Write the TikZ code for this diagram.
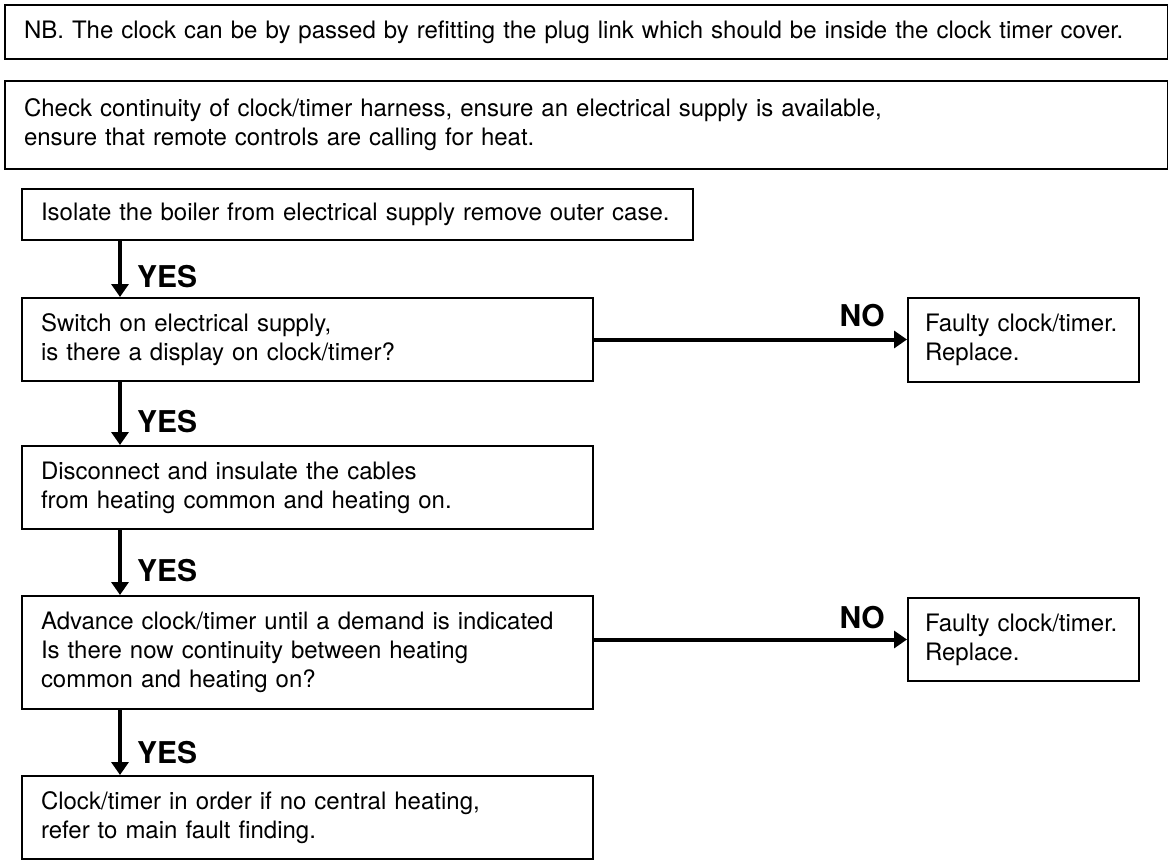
\documentclass[tikz,border=0pt]{standalone}
\usepackage{fontspec}
\setmainfont{TeX Gyre Heros}
\usetikzlibrary{arrows.meta}
\begin{document}
\begin{tikzpicture}[x=1pt,y=-1pt,
  box/.style={draw, line width=2pt, rectangle, anchor=north west, inner xsep=19pt, inner ysep=0pt, align=left, font=\fontsize{24}{29}\selectfont},
  arr/.style={line width=4pt, -{Triangle[length=13pt,width=17pt]}},
  lab/.style={font=\bfseries\fontsize{30}{36}\selectfont, inner sep=0pt}]
\fill[white] (0,0) rectangle (1168,865);
\useasboundingbox (0,0) rectangle (1168,865);
\node[box, text width=1125pt, minimum height=54pt] (nb) at (4,4) {NB. The clock can be by passed by refitting the plug link which should be inside the clock timer cover.};
\node[box, text width=1125pt, minimum height=88pt] (chk) at (4,80) {Check continuity of clock/timer harness, ensure an electrical supply is available,\\ ensure that remote controls are calling for heat.};
\node[box, text width=633pt, minimum height=51pt] (b1) at (21,188) {Isolate the boiler from electrical supply remove outer case.};
\node[box, text width=533pt, minimum height=83pt] (b2) at (21,297) {Switch on electrical supply,\\ is there a display on clock/timer?};
\node[box, text width=533pt, minimum height=83pt] (b3) at (21,445) {Disconnect and insulate the cables\\ from heating common and heating on.};
\node[box, text width=533pt, minimum height=113pt] (b4) at (21,595) {Advance clock/timer until a demand is indicated\\ Is there now continuity between heating\\ common and heating on?};
\node[box, text width=533pt, minimum height=83pt] (b5) at (21,775) {Clock/timer in order if no central heating,\\ refer to main fault finding.};
\node[box, inner xsep=17pt, text width=197pt, minimum height=84pt] (f1) at (907,297) {Faulty clock/timer.\\ Replace.};
\node[box, inner xsep=17pt, text width=197pt, minimum height=83pt] (f2) at (907,597) {Faulty clock/timer.\\ Replace.};
\draw[arr] ([xshift=99pt]b1.south west) -- ([xshift=99pt]b2.north west);
\draw[arr] ([xshift=99pt]b2.south west) -- ([xshift=99pt]b3.north west);
\draw[arr] ([xshift=99pt]b3.south west) -- ([xshift=99pt]b4.north west);
\draw[arr] ([xshift=99pt]b4.south west) -- ([xshift=99pt]b5.north west);
\draw[arr] (b2.east) -- (b2.east -| f1.west);
\draw[arr] (f2.west -| b4.east) -- (f2.west);
\node[lab, anchor=base west] (y1) at (137,287) {YES};
\node[lab, anchor=base west] (y2) at (137,432) {YES};
\node[lab, anchor=base west] (y3) at (137,581) {YES};
\node[lab, anchor=base west] (y4) at (137,763) {YES};
\node[lab, anchor=base east] (n1) at (885,326) {NO};
\node[lab, anchor=base east] (n2) at (885,628) {NO};
\end{tikzpicture}
\end{document}
